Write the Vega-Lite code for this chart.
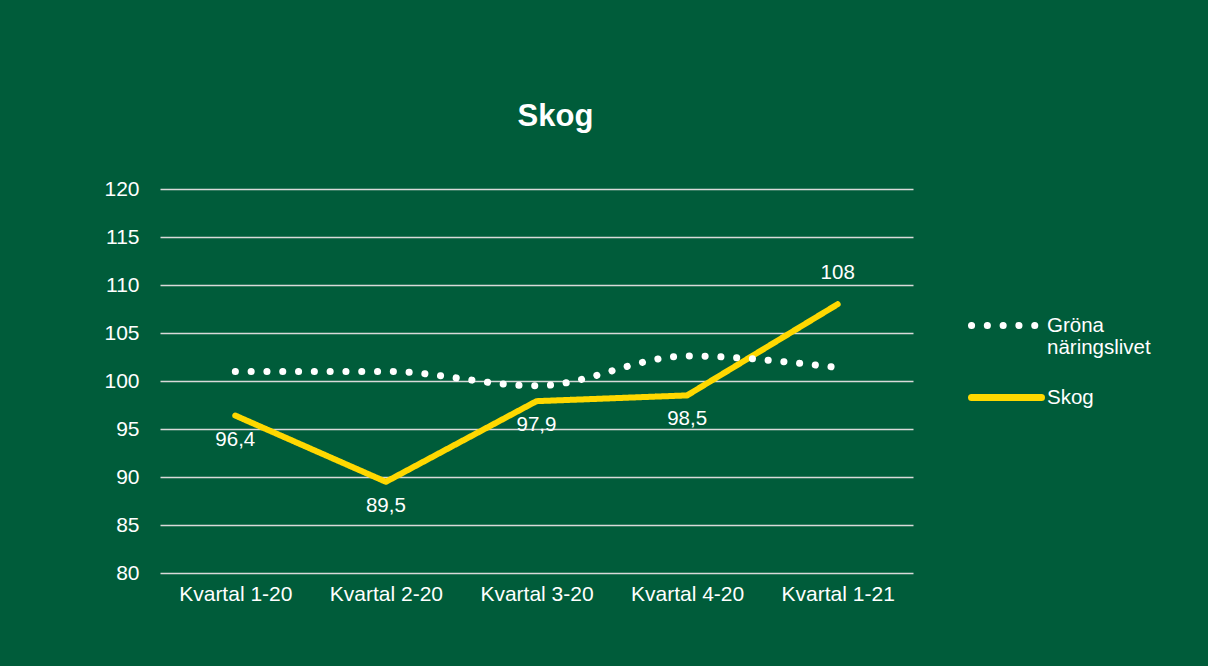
{
  "$schema": "https://vega.github.io/schema/vega-lite/v6.json",
  "autosize": {"type": "none"},
  "width": 753,
  "height": 384,
  "padding": {"left": 160, "top": 189, "right": 295, "bottom": 93},
  "background": "#005C3A",
  "config": {
    "view": {"stroke": null},
    "font": "Liberation Sans",
    "locale": {"number": {"decimal": ",", "thousands": " ", "grouping": [3], "currency": ["", " kr"]}},
    "legend": {"title": null, "orient": "none", "legendX": 808, "legendY": 98, "symbolType": "stroke", "symbolSize": 4900, "symbolStrokeWidth": 7, "labelColor": "#ffffff", "labelFontSize": 20.5, "labelFont": "Liberation Sans", "labelOffset": 2, "rowPadding": 0}
  },
  "title": {
    "text": "Skog",
    "fontSize": 31,
    "fontWeight": "bold",
    "color": "#ffffff",
    "font": "Liberation Sans",
    "offset": 45,
    "dx": 19
  },
  "data": {
    "values": [
      {"kvartal": "Kvartal 1-20", "series": "Gröna näringslivet", "v": 101.0},
      {"kvartal": "Kvartal 2-20", "series": "Gröna näringslivet", "v": 101.0},
      {"kvartal": "Kvartal 3-20", "series": "Gröna näringslivet", "v": 99.5},
      {"kvartal": "Kvartal 4-20", "series": "Gröna näringslivet", "v": 102.6},
      {"kvartal": "Kvartal 1-21", "series": "Gröna näringslivet", "v": 101.4},
      {"kvartal": "Kvartal 1-20", "series": "Skog", "v": 96.4},
      {"kvartal": "Kvartal 2-20", "series": "Skog", "v": 89.5},
      {"kvartal": "Kvartal 3-20", "series": "Skog", "v": 97.9},
      {"kvartal": "Kvartal 4-20", "series": "Skog", "v": 98.5},
      {"kvartal": "Kvartal 1-21", "series": "Skog", "v": 108}
    ]
  },
  "encoding": {
    "x": {
      "field": "kvartal", "type": "ordinal", "sort": null,
      "scale": {"type": "point", "padding": 0.5},
      "axis": {"title": null, "labelAngle": 0, "labelColor": "#ffffff", "labelFontSize": 21, "labelPadding": 10, "domain": false, "ticks": false, "grid": false, "labelFont": "Liberation Sans"}
    },
    "y": {
      "field": "v", "type": "quantitative",
      "scale": {"domain": [80, 120], "nice": false, "zero": false},
      "axis": {"title": null, "values": [80, 85, 90, 95, 100, 105, 110, 115, 120], "labelColor": "#ffffff", "labelFontSize": 21, "labelPadding": 21, "domain": false, "ticks": false, "gridColor": "#D9D9D9", "gridWidth": 1.5, "labelFont": "Liberation Sans"}
    }
  },
  "layer": [
    {
      "transform": [{"filter": "datum.series == 'Skog'"}],
      "mark": {"type": "line", "strokeWidth": 6, "strokeCap": "round", "strokeJoin": "round"},
      "encoding": {
        "color": {"field": "series", "type": "nominal", "scale": {"domain": ["Gröna näringslivet", "Skog"], "range": ["#ffffff", "#FFD800"]},
          "legend": {"labelExpr": "datum.label == 'Gröna näringslivet' ? ['Gröna', 'näringslivet'] : datum.label", "encode": {"symbols": {"update": {"strokeCap": {"value": "round"}}}}}},
        "strokeDash": {"field": "series", "type": "nominal", "scale": {"domain": ["Gröna näringslivet", "Skog"], "range": [[0.1, 15.7], [1, 0]]},
          "legend": {"labelExpr": "datum.label == 'Gröna näringslivet' ? ['Gröna', 'näringslivet'] : datum.label", "encode": {"symbols": {"update": {"strokeCap": {"value": "round"}}}}}}
      }
    },
    {
      "transform": [{"filter": "datum.series == 'Gröna näringslivet'"}],
      "mark": {"type": "line", "strokeWidth": 7, "strokeCap": "round", "interpolate": "monotone"},
      "encoding": {
        "color": {"field": "series", "type": "nominal", "scale": {"domain": ["Gröna näringslivet", "Skog"], "range": ["#ffffff", "#FFD800"]},
          "legend": {"labelExpr": "datum.label == 'Gröna näringslivet' ? ['Gröna', 'näringslivet'] : datum.label", "encode": {"symbols": {"update": {"strokeCap": {"value": "round"}}}}}},
        "strokeDash": {"field": "series", "type": "nominal", "scale": {"domain": ["Gröna näringslivet", "Skog"], "range": [[0.1, 15.7], [1, 0]]},
          "legend": {"labelExpr": "datum.label == 'Gröna näringslivet' ? ['Gröna', 'näringslivet'] : datum.label", "encode": {"symbols": {"update": {"strokeCap": {"value": "round"}}}}}}
      }
    },
    {
      "transform": [{"filter": "datum.series == 'Skog' && datum.v < 100"}],
      "mark": {"type": "text", "dy": 24, "fontSize": 20.5, "color": "#ffffff", "font": "Liberation Sans"},
      "encoding": {"text": {"field": "v", "type": "quantitative", "format": ".1~f"}}
    },
    {
      "transform": [{"filter": "datum.series == 'Skog' && datum.v >= 100"}],
      "mark": {"type": "text", "dy": -31, "fontSize": 20.5, "color": "#ffffff", "font": "Liberation Sans"},
      "encoding": {"text": {"field": "v", "type": "quantitative", "format": ".1~f"}}
    }
  ]
}
